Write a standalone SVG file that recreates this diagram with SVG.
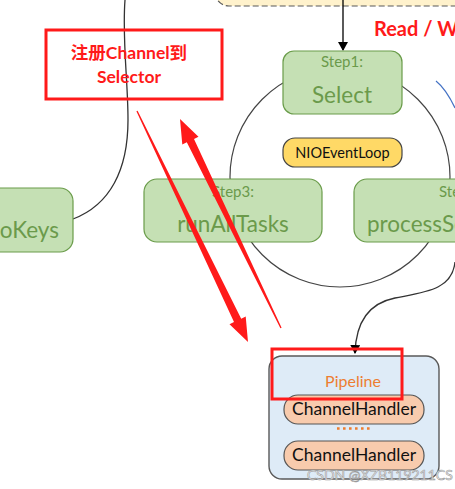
<svg xmlns="http://www.w3.org/2000/svg" width="455" height="489" viewBox="0 0 455 489">
<defs>
<style>
text{font-family:Lato,"Noto Sans CJK SC",sans-serif}
.step{fill:#C5E0B4;stroke:#6A9C4A;stroke-width:1.2}
.lbl{fill:#6B9A4B;text-anchor:middle}
.red{fill:#FF1A1A;font-weight:bold;text-anchor:middle}
.box-red{fill:none;stroke:#FF1A1A;stroke-width:3}
.wire{fill:none;stroke:#333;stroke-width:1.3}
.hdl{fill:#F8CBAD;stroke:#555;stroke-width:1.2}
.arrowred{fill:#FF1A1A}
</style>
<marker id="ah" markerWidth="10" markerHeight="10" refX="8" refY="5" orient="auto" markerUnits="userSpaceOnUse">
<path d="M0,0 L9,5 L0,10 Z" fill="#000"/>
</marker>
</defs>
<rect width="455" height="489" fill="#fff"/>

<g id="top-box">
<rect x="215" y="-40" width="300" height="46" rx="14" fill="#FFF2CC" stroke="#595959" stroke-width="1.2" stroke-dasharray="6 3"/>
</g>

<g id="loop-circle">
<circle cx="340" cy="177" r="110" fill="none" stroke="#444" stroke-width="1.2"/>
</g>

<g id="connectors">
<line x1="343" y1="0" x2="343" y2="50" stroke="#000" stroke-width="1.3" marker-end="url(#ah)"/>
<path class="wire" d="M73,219 C110,205 128,170 128,120 C128,80 122,40 125,0"/>
<path class="wire" d="M455,262 C452,290 425,292 395,298 C370,303 356,320 355,353" marker-end="url(#ah)"/>
<path d="M436,81 Q446,89 455,108" fill="none" stroke="#4472C4" stroke-width="1.2"/>
</g>

<g id="read-write">
<text x="374" y="36" font-size="20" class="red" style="text-anchor:start">Read / W</text>
</g>

<g id="step1">
<rect class="step" x="283" y="51" width="119" height="63" rx="11"/>
<text class="lbl" x="342" y="67" font-size="15">Step1:</text>
<text class="lbl" x="342" y="103" font-size="22.5">Select</text>
</g>

<g id="nioeventloop">
<rect x="283" y="138" width="119" height="29" rx="12" fill="#FFD966" stroke="#444" stroke-width="1.2"/>
<text x="342.5" y="158" font-size="14.5" text-anchor="middle" fill="#111">NIOEventLoop</text>
</g>

<g id="step3">
<rect class="step" x="144" y="179" width="178" height="63" rx="13"/>
<text class="lbl" x="233" y="197" font-size="15">Step3:</text>
<text class="lbl" x="233" y="232" font-size="22.5">runAllTasks</text>
</g>

<g id="step2">
<rect class="step" x="354" y="179" width="218" height="63" rx="13"/>
<text class="lbl" x="439" y="197" font-size="15" style="text-anchor:start">Step2:</text>
<text class="lbl" x="367" y="232" font-size="22.5" style="text-anchor:start">processSelectedKeys</text>
</g>

<g id="left-box">
<rect class="step" x="-150" y="188" width="223" height="64" rx="13"/>
<text class="lbl" x="59" y="238" font-size="22.5" style="text-anchor:end">oKeys</text>
</g>

<g id="register-note">
<rect class="box-red" x="46" y="30" width="176" height="69"/>
<text class="red" x="129" y="59" font-size="17.5">注册Channel到</text>
<text class="red" x="129" y="83" font-size="17.5">Selector</text>
</g>

<g id="red-arrows">
<polygon class="arrowred" points="137.6,110.7 241.2,318.7 245.7,316.5 248,342 229.5,324.3 234.0,322.1 136.4,111.3"/>
<polygon class="arrowred" points="281.6,327.7 194.0,138.9 198.5,136.7 180,119 182.3,144.5 186.8,142.3 280.4,328.3"/>
</g>

<g id="pipeline">
<rect x="269" y="356" width="170" height="123" rx="13" fill="#DEEBF7" stroke="#595959" stroke-width="1.4"/>
<text x="353" y="387" font-size="16" text-anchor="middle" fill="#ED7D31">Pipeline</text>
<rect class="hdl" x="284" y="395" width="140" height="29" rx="14"/>
<text x="354" y="415" font-size="17.5" text-anchor="middle" fill="#111">ChannelHandler</text>
<line x1="337" y1="428.5" x2="372" y2="428.5" stroke="#ED7D31" stroke-width="2.6" stroke-dasharray="2.6 3.4"/>
<rect class="hdl" x="284" y="441" width="140" height="29" rx="14"/>
<text x="354" y="461" font-size="17.5" text-anchor="middle" fill="#111">ChannelHandler</text>
</g>

<g id="pipeline-highlight">
<rect class="box-red" x="272" y="349" width="130" height="50"/>
</g>

<g id="watermark">
<text x="307" y="480" font-size="14" fill="#f4f4f4" stroke="#9a9a9a" stroke-width="0.6" font-family="Liberation Sans, sans-serif">CSDN @XZB119211CS</text>
</g>
</svg>
